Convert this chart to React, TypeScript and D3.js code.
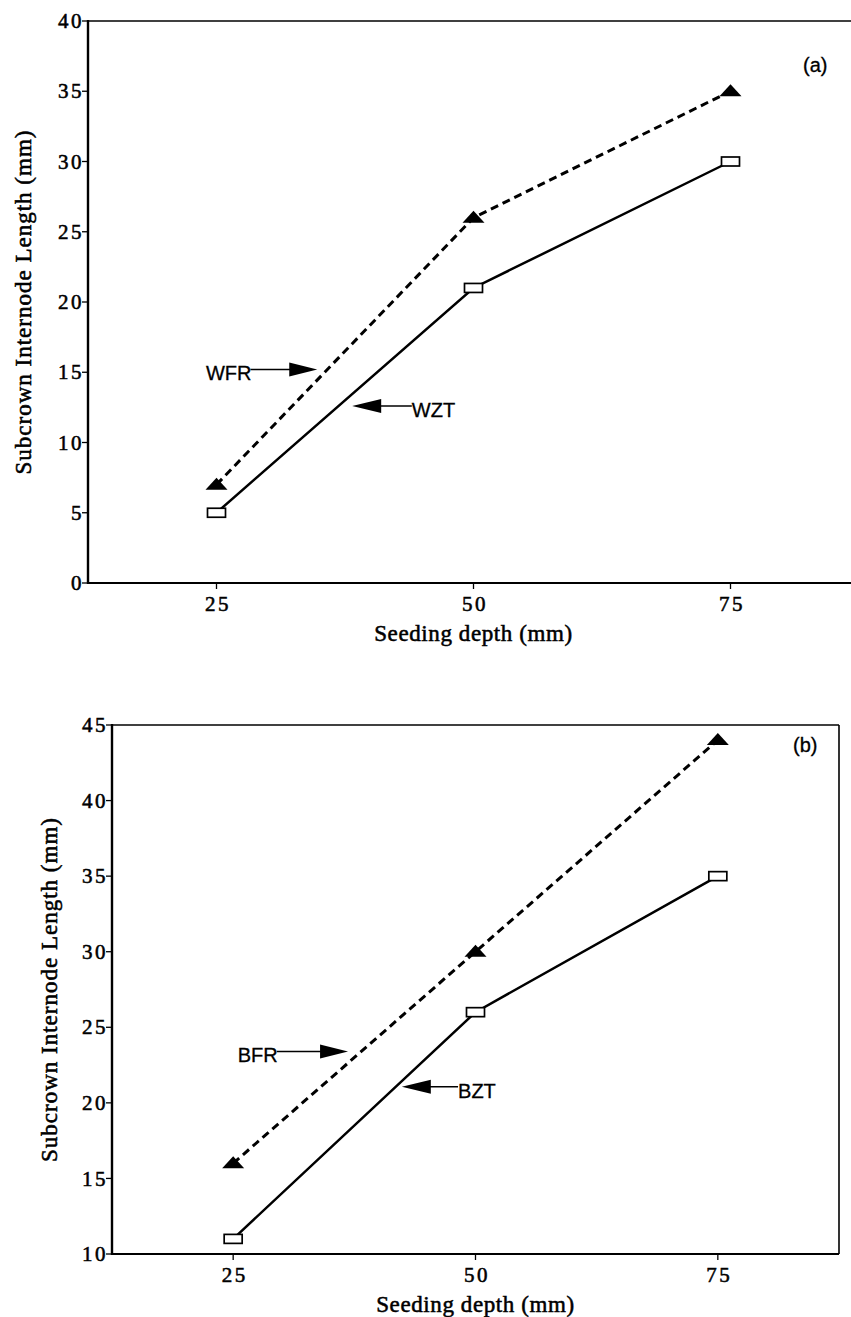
import React from "react";
import * as d3 from "d3";

const depth = [25, 50, 75];
const xTicks = [25, 50, 75];
const topYTicks = [0, 5, 10, 15, 20, 25, 30, 35, 40];
const bottomYTicks = [10, 15, 20, 25, 30, 35, 40, 45];
const wzt = [5, 21, 30];
const wfr = [7, 26, 35];
const bzt = [11, 26, 35];
const bfr = [16, 30, 44];

const SERIF = "'Liberation Serif', 'Times New Roman', serif";
const SANS = "'Liberation Sans', Arial, sans-serif";

type Ann = { text: string; dir: "right" | "left"; a: number; b: number; y: number };

function Panel(props: {
  xRange: [number, number];
  yDomain: [number, number];
  yRange: [number, number];
  yTicks: number[];
  solid: number[];
  dashed: number[];
  anns: Ann[];
  tag: string;
  tagPos: [number, number];
  yTitleX: number;
}) {
  const { xRange, yDomain, yRange, yTicks, solid, dashed, anns, tag, tagPos, yTitleX } = props;
  const x = d3.scaleLinear().domain([12.5, 87.5]).range(xRange);
  const y = d3.scaleLinear().domain(yDomain).range(yRange);
  const x0 = x(12.5), x1 = x(87.5);
  const yb = y(yDomain[0]), yt = y(yDomain[1]);
  const line = d3.line<number>().x((_, i) => x(depth[i])).y((v) => y(v));
  const yMid = (yb + yt) / 2;
  const serifText = { fontFamily: SERIF, fill: "#000", stroke: "#000", strokeWidth: 0.55 } as const;
  const sansText = { fontFamily: SANS, fill: "#000", stroke: "#000", strokeWidth: 0.3 } as const;

  return (
    <g>
      {/* frame */}
      <line x1={x0} x2={x1} y1={yt} y2={yt} stroke="#000" strokeWidth={1.6} />
      <line x1={x1} x2={x1} y1={yt} y2={yb} stroke="#000" strokeWidth={1.6} />
      <line x1={x0} x2={x1} y1={yb} y2={yb} stroke="#000" strokeWidth={2.2} />
      <line x1={x0} x2={x0} y1={yt - 1} y2={yb + 1} stroke="#000" strokeWidth={2.4} />
      {/* y ticks */}
      {yTicks.map((t) => (
        <g key={"y" + t}>
          <line x1={x0 - 6} x2={x0} y1={y(t)} y2={y(t)} stroke="#000" strokeWidth={1.3} />
          <text x={x0 - 4} y={y(t)} dy="0.34em" textAnchor="end" fontSize={21} letterSpacing={2.5} {...serifText}>
            {t}
          </text>
        </g>
      ))}
      {/* x ticks */}
      {xTicks.map((t) => (
        <g key={"x" + t}>
          <line x1={x(t)} x2={x(t)} y1={yb} y2={yb + 6} stroke="#000" strokeWidth={1.3} />
          <text x={x(t) + 1.5} y={yb + 21} dy="0.34em" textAnchor="middle" fontSize={21} letterSpacing={2.5} {...serifText}>
            {t}
          </text>
        </g>
      ))}
      <text x={x(50)} y={yb + 50} dy="0.34em" textAnchor="middle" fontSize={23} letterSpacing={0.6} {...serifText}>
        Seeding depth (mm)
      </text>
      <text
        transform={`translate(${yTitleX},${yMid}) rotate(-90)`}
        dy="0.34em"
        textAnchor="middle"
        fontSize={23}
        letterSpacing={1}
        {...serifText}
      >
        Subcrown Internode Length (mm)
      </text>
      {/* lines */}
      <path d={line(dashed) || ""} fill="none" stroke="#000" strokeWidth={3} strokeDasharray="8,5" />
      <path d={line(solid) || ""} fill="none" stroke="#000" strokeWidth={2.5} />
      {dashed.map((v, i) => {
        const cx = x(depth[i]);
        const cy = y(v);
        return (
          <path
            key={"t" + i}
            d={`M${cx - 11},${cy + 5} L${cx + 11},${cy + 5} L${cx},${cy - 7} Z`}
            fill="#000"
          />
        );
      })}
      {solid.map((v, i) => (
        <rect
          key={"s" + i}
          x={x(depth[i]) - 9}
          y={y(v) - 4.5}
          width={18}
          height={9}
          fill="#fff"
          stroke="#000"
          strokeWidth={1.7}
        />
      ))}
      {/* annotations */}
      {anns.map((a) => {
        const yy = y(a.y);
        if (a.dir === "right") {
          const xs = x(a.a), tip = x(a.b);
          return (
            <g key={a.text}>
              <text x={xs + 1} y={yy + 11} textAnchor="end" fontSize={20} {...sansText}>
                {a.text}
              </text>
              <line x1={xs} x2={tip - 20} y1={yy} y2={yy} stroke="#000" strokeWidth={1.6} />
              <path d={`M${tip - 28},${yy - 7} L${tip},${yy} L${tip - 28},${yy + 7} Z`} fill="#000" />
            </g>
          );
        }
        const tip = x(a.a), xe = x(a.b);
        return (
          <g key={a.text}>
            <path d={`M${tip + 29},${yy - 7} L${tip},${yy} L${tip + 29},${yy + 7} Z`} fill="#000" />
            <line x1={tip + 20} x2={xe} y1={yy} y2={yy} stroke="#000" strokeWidth={1.6} />
            <text x={xe} y={yy + 11} textAnchor="start" fontSize={20} {...sansText}>
              {a.text}
            </text>
          </g>
        );
      })}
      <text x={x(tagPos[0])} y={y(tagPos[1])} fontSize={20} {...sansText}>
        {tag}
      </text>
    </g>
  );
}

export default function App() {
  return (
    <svg
      width={851}
      height={1317}
      style={{ position: "absolute", left: 0, top: 0, background: "#fff" }}
    >
      <rect width={851} height={1317} fill="#fff" />
      <Panel
        xRange={[88, 859]}
        yDomain={[0, 40]}
        yRange={[583, 21]}
        yTicks={topYTicks}
        solid={wzt}
        dashed={wfr}
        anns={[
          { text: "WFR", dir: "right", a: 28.3, b: 34.8, y: 15.2 },
          { text: "WZT", dir: "left", a: 38.2, b: 44.0, y: 12.6 },
        ]}
        tag="(a)"
        tagPos={[82.05, 36.4]}
        yTitleX={23}
      />
      <Panel
        xRange={[112, 839]}
        yDomain={[10, 45]}
        yRange={[1254, 725]}
        yTicks={bottomYTicks}
        solid={bzt}
        dashed={bfr}
        anns={[
          { text: "BFR", dir: "right", a: 29.5, b: 36.85, y: 23.4 },
          { text: "BZT", dir: "left", a: 42.4, b: 48.2, y: 21.07 },
        ]}
        tag="(b)"
        tagPos={[82.76, 43.2]}
        yTitleX={49}
      />
    </svg>
  );
}
